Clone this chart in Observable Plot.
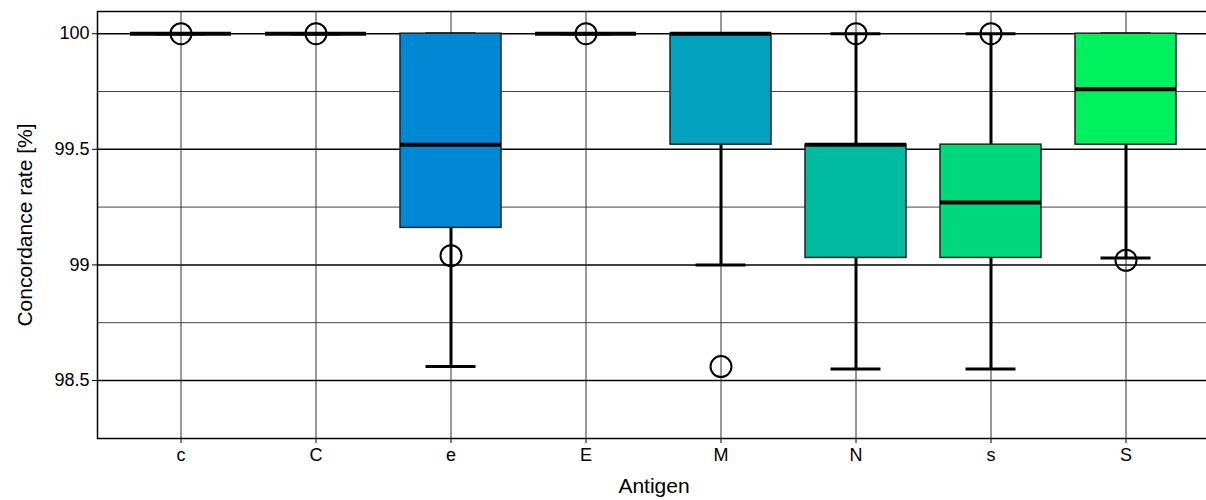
<!DOCTYPE html>
<html>
<head>
<meta charset="utf-8">
<script src="https://cdn.jsdelivr.net/npm/d3@7"></script>
<script src="https://cdn.jsdelivr.net/npm/@observablehq/plot@0.6"></script>
<style>
  html, body { margin: 0; padding: 0; background: #fff; }
  #chart svg { display: block; }
  #chart g[aria-label="y-axis tick label"], #chart g[aria-label="x-axis tick label"] { font-size: 18px; }
  #chart g[aria-label="y-axis tick label"] text, #chart g[aria-label="x-axis tick label"] text { font-size: 18px; }
</style>
</head>
<body>
<div id="chart"></div>
<script>
const categories = ["c", "C", "e", "E", "M", "N", "s", "S"];
const whiskerLow  = [100, 100, 98.56, 100, 99.00, 98.55, 98.55, 99.03];
const q1          = [100, 100, 99.16, 100, 99.52, 99.03, 99.03, 99.52];
const median      = [100, 100, 99.52, 100, 100,   99.52, 99.27, 99.76];
const q3          = [100, 100, 100,   100, 100,   99.52, 99.52, 100];
const whiskerHigh = [100, 100, 100,   100, 100,   100,   100,   100];
const outliers    = [100, 100, 99.04, 100, 98.56, 100,   100,   99.02];
const boxColors   = ["#2a5cc8", "#1a70cf", "#0088d4", "#0096c8", "#00a2bd", "#00bb9f", "#00d97b", "#00f05e"];
const majorTicks  = [98.5, 99, 99.5, 100];
const minorTicks  = [98.75, 99.25, 99.75];
const yLabel = "Concordance rate [%]";
const xLabel = "Antigen";

const rows = categories.map((c, i) => ({
  cat: c, lo: whiskerLow[i], q1: q1[i], med: median[i], q3: q3[i],
  hi: whiskerHigh[i], out: outliers[i], color: boxColors[i]
}));

const chart = Plot.plot({
  width: 1206,
  height: 500,
  marginLeft: 97,
  marginRight: 0,
  marginTop: 11,
  marginBottom: 62,
  style: { fontFamily: "'Liberation Sans', Arial, sans-serif", fontSize: "18px", color: "#000", background: "#fff" },
  x: { domain: categories, range: [97, 1209], paddingInner: 0.25, paddingOuter: 0.225, label: null },
  y: { domain: [98.249, 100.096], label: null },
  marks: [
    Plot.ruleY(minorTicks, { stroke: "#444", strokeWidth: 1 }),
    Plot.ruleY(majorTicks, { stroke: "#000", strokeWidth: 1.5 }),
    Plot.ruleX(categories, { x: d => d, stroke: "#333", strokeWidth: 1 }),
    Plot.frame({ stroke: "#000", strokeWidth: 1.5, insetRight: -8 }),
    Plot.ruleX(rows, { x: "cat", y1: "lo", y2: "q1", stroke: "#000", strokeWidth: 3 }),
    Plot.ruleX(rows, { x: "cat", y1: "q3", y2: "hi", stroke: "#000", strokeWidth: 3 }),
    Plot.tickY(rows, { x: "cat", y: "lo", stroke: "#000", strokeWidth: 3, insetLeft: 25.5, insetRight: 25.5 }),
    Plot.tickY(rows, { x: "cat", y: "hi", stroke: "#000", strokeWidth: 3, insetLeft: 25.5, insetRight: 25.5 }),
    Plot.barY(rows, { x: "cat", y1: "q1", y2: "q3", fill: "color", stroke: "#222", strokeWidth: 1.5 }),
    Plot.tickY(rows, { x: "cat", y: "med", stroke: "#000", strokeWidth: 4 }),
    Plot.dot(rows, { x: "cat", y: "out", r: 10.5, stroke: "#000", strokeWidth: 2, fill: "none" }),
    Plot.axisY({ ticks: majorTicks, tickSize: 5, tickPadding: 3, fontSize: 18, tickFormat: d => String(d), label: null }),
    Plot.axisX({ tickSize: 5, tickPadding: 5, fontSize: 18, label: null }),
    Plot.text([yLabel], { text: d => d, frameAnchor: "left", dx: -72, rotate: -90, textAnchor: "middle", lineAnchor: "middle", fontSize: 21, fill: "#000" }),
    Plot.text([xLabel], { text: d => d, frameAnchor: "bottom", dx: 2, dy: 48, textAnchor: "middle", lineAnchor: "middle", fontSize: 21, fill: "#000" })
  ]
});
document.getElementById("chart").appendChild(chart);
</script>
</body>
</html>
